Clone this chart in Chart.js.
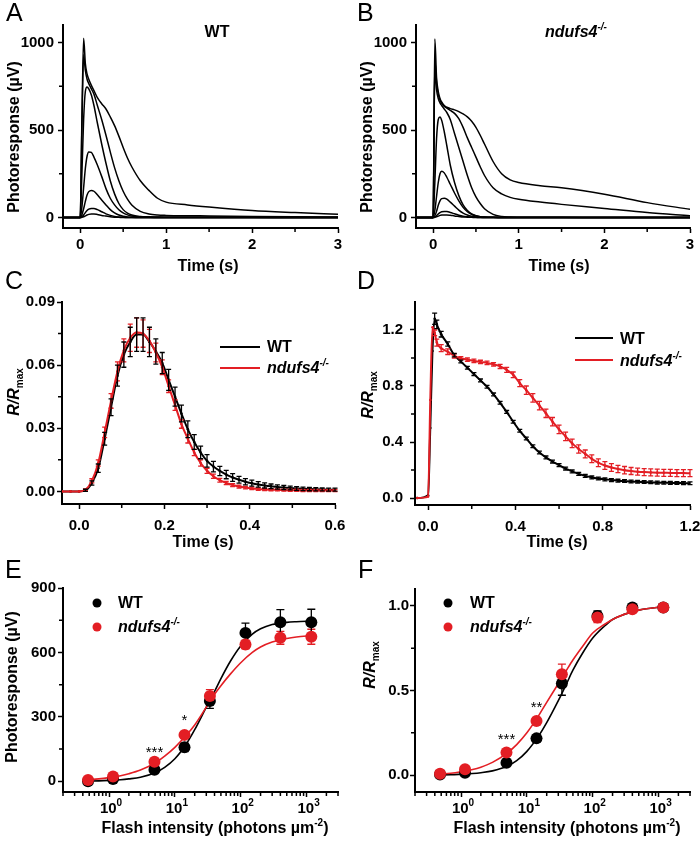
<!DOCTYPE html>
<html>
<head>
<meta charset="utf-8">
<script src="https://cdn.jsdelivr.net/npm/chart.js@4"></script>
<style>
html, body { margin: 0; padding: 0; background: #fff; }
#fig { position: relative; width: 700px; height: 842px; overflow: hidden; }
canvas { position: absolute; }
</style>
</head>
<body>
<div id="fig"></div>
<script>
// ---- A / B : photoresponse families (uV) ----
const tAB = [-0.2, 0, 0.02, 0.04, 0.06, 0.08, 0.1, 0.13, 0.16, 0.2, 0.25, 0.3, 0.35, 0.4, 0.45, 0.5, 0.55, 0.6, 0.7, 0.8, 0.9, 1.0, 1.25, 1.5, 2.0, 2.5, 3.0];
const wtA1 = [0, 0, 560, 1025, 880, 820, 790, 755, 725, 685, 650, 620, 575, 525, 465, 400, 340, 290, 210, 155, 110, 88, 72, 60, 40, 28, 18];
const wtA2 = [0, 0, 520, 930, 840, 790, 765, 735, 705, 640, 560, 470, 375, 285, 210, 150, 105, 72, 35, 20, 14, 12, 10, 9, 6, 4, 3];
const wtA3 = [0, 0, 250, 560, 720, 746, 735, 700, 640, 540, 420, 310, 210, 135, 80, 45, 25, 14, 6, 4, 3, 2, 2, 1, 1, 0, 0];
const wtA4 = [0, 0, 60, 170, 280, 350, 375, 372, 345, 300, 235, 165, 110, 72, 44, 26, 15, 8, 3, 1, 0, 0, 0, 0, 0, 0, 0];
const wtA5 = [0, 0, 15, 50, 92, 128, 148, 155, 150, 130, 100, 72, 45, 26, 14, 7, 3, 1, 0, 0, 0, 0, 0, 0, 0, 0, 0];
const wtA6 = [0, 0, 4, 14, 28, 40, 48, 52, 52, 45, 33, 21, 12, 6, 3, 1, 0, 0, 0, 0, 0, 0, 0, 0, 0, 0, 0];
const wtA7 = [0, 0, 1, 4, 9, 14, 18, 20, 20, 17, 12, 8, 4, 2, 1, 0, 0, 0, 0, 0, 0, 0, 0, 0, 0, 0, 0];

const koB1 = [0, 0, 1020, 800, 720, 680, 660, 640, 630, 622, 615, 605, 592, 575, 550, 515, 470, 420, 320, 250, 215, 200, 182, 170, 133, 85, 47];
const koB2 = [0, 0, 900, 770, 705, 672, 652, 635, 625, 612, 595, 565, 515, 455, 400, 345, 290, 240, 170, 135, 115, 104, 88, 75, 52, 28, 10];
const koB3 = [0, 0, 850, 730, 680, 655, 640, 620, 600, 560, 480, 400, 320, 240, 170, 118, 80, 50, 18, 6, 3, 2, 1, 1, 0, 0, 0];
const koB4 = [0, 0, 200, 450, 560, 575, 555, 490, 410, 300, 200, 125, 72, 40, 20, 10, 5, 3, 1, 0, 0, 0, 0, 0, 0, 0, 0];
const koB5 = [0, 0, 40, 120, 200, 250, 265, 255, 230, 190, 140, 95, 58, 33, 18, 10, 5, 3, 1, 0, 0, 0, 0, 0, 0, 0, 0];
const koB6 = [0, 0, 10, 35, 70, 95, 108, 110, 105, 88, 65, 42, 25, 14, 7, 3, 1, 0, 0, 0, 0, 0, 0, 0, 0, 0, 0];
const koB7 = [0, 0, 3, 10, 20, 28, 33, 35, 34, 29, 21, 13, 7, 4, 2, 1, 0, 0, 0, 0, 0, 0, 0, 0, 0, 0, 0];
const koB8 = [0, 0, 1, 4, 8, 12, 14, 15, 15, 13, 9, 6, 3, 2, 1, 0, 0, 0, 0, 0, 0, 0, 0, 0, 0, 0, 0];

// ---- C : dim flash R/Rmax ----
const tC = [-0.04, -0.02, 0, 0.015, 0.03, 0.045, 0.06, 0.075, 0.09, 0.105, 0.12, 0.135, 0.15, 0.165, 0.18, 0.195, 0.21, 0.225, 0.24, 0.255, 0.27, 0.285, 0.3, 0.315, 0.33, 0.345, 0.36, 0.375, 0.39, 0.405, 0.42, 0.435, 0.45, 0.465, 0.48, 0.495, 0.51, 0.525, 0.54, 0.555, 0.57, 0.585, 0.6];
const wtC = [0, 0, 0, 0.0005, 0.004, 0.011, 0.025, 0.040, 0.055, 0.065, 0.071, 0.0745, 0.0745, 0.071, 0.0665, 0.061, 0.053, 0.045, 0.037, 0.0295, 0.0235, 0.0185, 0.0145, 0.0118, 0.0097, 0.008, 0.0066, 0.0055, 0.0046, 0.0039, 0.0033, 0.0028, 0.0024, 0.0021, 0.0018, 0.0016, 0.0014, 0.0012, 0.0011, 0.001, 0.0009, 0.0008, 0.0008];
const wtCerr = [0, 0, 0, 0.0005, 0.001, 0.002, 0.003, 0.004, 0.005, 0.006, 0.007, 0.008, 0.008, 0.007, 0.006, 0.005, 0.005, 0.0045, 0.004, 0.004, 0.0035, 0.003, 0.003, 0.0025, 0.0022, 0.002, 0.0018, 0.0016, 0.0015, 0.0014, 0.0013, 0.0012, 0.0011, 0.001, 0.001, 0.0009, 0.0009, 0.0008, 0.0008, 0.0008, 0.0007, 0.0007, 0.0007];
const koC = [0, 0, 0, 0.0008, 0.005, 0.0135, 0.028, 0.043, 0.057, 0.067, 0.073, 0.0755, 0.075, 0.0715, 0.066, 0.059, 0.050, 0.041, 0.032, 0.025, 0.0185, 0.0135, 0.0098, 0.0072, 0.0053, 0.004, 0.003, 0.0023, 0.0018, 0.0014, 0.0011, 0.0009, 0.0008, 0.0007, 0.0006, 0.0005, 0.0005, 0.0004, 0.0004, 0.0004, 0.0004, 0.0004, 0.0004];
const koCerr = [0, 0, 0, 0.0004, 0.001, 0.0015, 0.0025, 0.0035, 0.0045, 0.0055, 0.0065, 0.007, 0.0065, 0.0055, 0.0045, 0.0035, 0.003, 0.0025, 0.002, 0.002, 0.0015, 0.0015, 0.0012, 0.001, 0.0009, 0.0008, 0.0007, 0.0007, 0.0006, 0.0006, 0.0006, 0.0005, 0.0005, 0.0005, 0.0005, 0.0005, 0.0005, 0.0005, 0.0005, 0.0005, 0.0005, 0.0005, 0.0005];

// ---- D : bright flash R/Rmax ----
const tD = [-0.05, 0, 0.01, 0.02, 0.03, 0.04, 0.06, 0.09, 0.12, 0.15, 0.18, 0.21, 0.24, 0.27, 0.3, 0.33, 0.36, 0.39, 0.42, 0.45, 0.48, 0.51, 0.54, 0.57, 0.6, 0.63, 0.66, 0.69, 0.72, 0.75, 0.78, 0.81, 0.84, 0.87, 0.9, 0.93, 0.96, 0.99, 1.02, 1.05, 1.08, 1.11, 1.14, 1.17, 1.2];
const wtD = [0, 0.02, 0.5, 1.05, 1.28, 1.24, 1.17, 1.10, 1.02, 0.975, 0.93, 0.885, 0.84, 0.795, 0.74, 0.68, 0.615, 0.545, 0.48, 0.425, 0.37, 0.325, 0.29, 0.26, 0.235, 0.21, 0.19, 0.172, 0.158, 0.147, 0.139, 0.133, 0.128, 0.124, 0.121, 0.118, 0.116, 0.114, 0.112, 0.11, 0.109, 0.108, 0.107, 0.106, 0.105];
const wtDerr = [0, 0, 0, 0, 0.04, 0.03, 0.02, 0.015, 0.012, 0.01, 0.01, 0.01, 0.01, 0.01, 0.01, 0.01, 0.01, 0.01, 0.01, 0.01, 0.01, 0.01, 0.01, 0.01, 0.01, 0.01, 0.01, 0.01, 0.01, 0.01, 0.01, 0.01, 0.01, 0.01, 0.01, 0.01, 0.01, 0.01, 0.01, 0.01, 0.01, 0.01, 0.01, 0.01, 0.01];
const koD = [0, 0.01, 0.7, 1.22, 1.18, 1.11, 1.07, 1.045, 1.015, 0.998, 0.988, 0.98, 0.972, 0.965, 0.955, 0.94, 0.915, 0.88, 0.82, 0.77, 0.715, 0.66, 0.605, 0.545, 0.49, 0.44, 0.39, 0.35, 0.315, 0.28, 0.252, 0.232, 0.218, 0.207, 0.199, 0.193, 0.188, 0.185, 0.183, 0.181, 0.18, 0.179, 0.178, 0.178, 0.177];
const koDerr = [0, 0, 0, 0, 0.02, 0.025, 0.025, 0.02, 0.015, 0.012, 0.012, 0.012, 0.012, 0.012, 0.012, 0.015, 0.018, 0.02, 0.025, 0.03, 0.03, 0.03, 0.03, 0.03, 0.03, 0.03, 0.03, 0.03, 0.028, 0.028, 0.028, 0.028, 0.028, 0.026, 0.026, 0.025, 0.025, 0.025, 0.025, 0.025, 0.025, 0.025, 0.025, 0.025, 0.025];

// ---- E / F : intensity-response ----
const flash = [0.48, 1.15, 4.9, 14, 34, 118, 400, 1180];
const wtE = [0, 10, 54, 158, 374, 691, 741, 741];
const wtEerr = [3, 5, 10, 20, 35, 45, 58, 60];
const koE = [6, 22, 91, 216, 397, 637, 668, 673];
const koEerr = [4, 6, 10, 15, 30, 20, 30, 35];
const wtF = [0.004, 0.014, 0.073, 0.217, 0.542, 0.94, 0.99, 0.99];
const wtFerr = [0.004, 0.005, 0.008, 0.02, 0.07, 0.03, 0.01, 0.01];
const koF = [0.008, 0.034, 0.134, 0.32, 0.596, 0.931, 0.98, 0.99];
const koFerr = [0.005, 0.006, 0.01, 0.02, 0.06, 0.03, 0.01, 0.01];
const fitX = [0.47, 0.7, 1, 1.5, 2, 3, 5, 7, 10, 15, 20, 30, 40, 50, 70, 100, 150, 200, 300, 500, 700, 1200];
const wtEfit = [1, 2, 4, 7, 11, 19, 40, 65, 105, 175, 240, 345, 418, 478, 560, 630, 685, 710, 730, 740, 743, 746];
const koEfit = [7, 11, 17, 26, 35, 52, 85, 117, 158, 215, 262, 345, 405, 445, 500, 552, 600, 625, 648, 665, 672, 678];
const wtFfit = [0.001, 0.002, 0.005, 0.009, 0.014, 0.025, 0.052, 0.085, 0.14, 0.23, 0.31, 0.44, 0.54, 0.62, 0.72, 0.81, 0.88, 0.92, 0.95, 0.975, 0.985, 0.995];
const koFfit = [0.006, 0.011, 0.02, 0.033, 0.047, 0.075, 0.13, 0.18, 0.25, 0.35, 0.43, 0.54, 0.62, 0.68, 0.76, 0.84, 0.89, 0.92, 0.95, 0.975, 0.985, 0.995];

// tick labels
const xTicksAB = [0, 1, 2, 3];
const yTicksAB = [0, 500, 1000];
const xTicksC = [0, 0.2, 0.4, 0.6];
const yTicksC = [0, 0.03, 0.06, 0.09];
const xTicksD = [0, 0.4, 0.8, 1.2];
const yTicksD = [0, 0.4, 0.8, 1.2];
const xTicksEF = [1, 10, 100, 1000];
const yTicksE = [0, 300, 600, 900];
const yTicksF = [0, 0.5, 1.0];
const logMinor = [0.2, 0.3, 0.4, 0.5, 0.6, 0.7, 0.8, 0.9, 2, 3, 4, 5, 6, 7, 8, 9, 20, 30, 40, 50, 60, 70, 80, 90, 200, 300, 400, 500, 600, 700, 800, 900, 2000, 3000];

const FONT = '"Liberation Sans", Arial, sans-serif';
const RED = '#e31e24';
const STYLES = {
  b: ['bold 16px', 0], bi: ['italic bold 16px', 0],
  sup: ['bold 10px', -7], supi: ['italic bold 10px', -7], sub: ['bold 10px', 4],
  letter: ['25px', 0], tick: ['bold 15px', 0], tsup: ['bold 10px', -7], ast: ['15px', 0]
};

function rich(ctx, x, y, parts, align, rot) {
  ctx.save();
  ctx.translate(x, y);
  if (rot) ctx.rotate(rot);
  ctx.textBaseline = 'alphabetic';
  ctx.textAlign = 'left';
  ctx.fillStyle = '#000';
  let w = 0;
  parts.forEach(([t, s]) => { ctx.font = STYLES[s][0] + ' ' + FONT; w += ctx.measureText(t).width; });
  let cx = align === 'center' ? -w / 2 : (align === 'right' ? -w : 0);
  parts.forEach(([t, s]) => {
    ctx.font = STYLES[s][0] + ' ' + FONT;
    ctx.fillText(t, cx, STYLES[s][1]);
    cx += ctx.measureText(t).width;
  });
  ctx.restore();
}

// axis decorations, legends, error bars
function deco(box, cfg) {
  const bx = box[0], by = box[1];
  function errorBars(chart) {
    const ctx = chart.ctx, xs = chart.scales.x, ys = chart.scales.y;
    chart.data.datasets.forEach(ds => {
      if (!ds.err) return;
      ctx.save();
      ctx.strokeStyle = ds.borderColor;
      ctx.lineWidth = 1.3;
      ds.data.forEach((p, j) => {
        const e = ds.err[j];
        if (!e) return;
        const px = xs.getPixelForValue(p.x);
        const y1 = ys.getPixelForValue(p.y + e), y2 = ys.getPixelForValue(p.y - e);
        const c = ds.cap;
        ctx.beginPath();
        ctx.moveTo(px, y1); ctx.lineTo(px, y2);
        ctx.moveTo(px - c, y1); ctx.lineTo(px + c, y1);
        ctx.moveTo(px - c, y2); ctx.lineTo(px + c, y2);
        ctx.stroke();
      });
      ctx.restore();
    });
  }
  return {
    id: 'deco',
    beforeDatasetsDraw(chart) { if (cfg.barsBelow) errorBars(chart); },
    afterDatasetsDraw(chart) { if (!cfg.barsBelow) errorBars(chart); },
    afterDraw(chart) {
      const ctx = chart.ctx, a = chart.chartArea;
      ctx.save();
      ctx.strokeStyle = '#000';
      ctx.lineWidth = 1.5;
      ctx.beginPath();
      (cfg.minorX || []).forEach(v => {
        const p = chart.scales.x.getPixelForValue(v);
        ctx.moveTo(p, a.bottom); ctx.lineTo(p, a.bottom + 4);
      });
      (cfg.minorY || []).forEach(v => {
        const p = chart.scales.y.getPixelForValue(v);
        ctx.moveTo(a.left, p); ctx.lineTo(a.left - 4, p);
      });
      ctx.stroke();
      (cfg.lines || []).forEach(l => {
        ctx.strokeStyle = l.c; ctx.lineWidth = 2.2;
        ctx.beginPath(); ctx.moveTo(l.x1 - bx, l.y - by); ctx.lineTo(l.x2 - bx, l.y - by); ctx.stroke();
      });
      (cfg.dots || []).forEach(d => {
        ctx.fillStyle = d.c;
        ctx.beginPath(); ctx.arc(d.x - bx, d.y - by, 4.5, 0, 2 * Math.PI); ctx.fill();
      });
      ctx.restore();
      (cfg.logLabels || []).forEach(v => {
        const p = chart.scales.x.getPixelForValue(v);
        rich(ctx, p + 2, cfg.logBase - by, [['10', 'tick'], [String(Math.round(Math.log10(v))), 'tsup']], 'center');
      });
      (cfg.marks || []).forEach(m => rich(ctx, chart.scales.x.getPixelForValue(m.x), chart.scales.y.getPixelForValue(m.y), [[m.t, 'ast']], 'center'));
      (cfg.texts || []).forEach(t => rich(ctx, t.x - bx, t.y - by, t.p, t.a || 'left', t.r ? -Math.PI / 2 : 0));
    }
  };
}

function panel(box, plot, datasets, sx, sy, cfg) {
  const [bx, by, bw, bh] = box, [l, t, r, b] = plot;
  const cv = document.createElement('canvas');
  cv.width = bw; cv.height = bh;
  cv.style.left = bx + 'px'; cv.style.top = by + 'px';
  document.getElementById('fig').appendChild(cv);
  const axis = (o, isX) => ({
    type: o.type || 'linear', min: o.min, max: o.max, bounds: 'data',
    afterBuildTicks: s => { s.ticks = o.ticks.map(v => ({ value: v })); },
    afterFit: s => {
      if (isX) { s.height = by + bh - b; s.paddingLeft = 0; s.paddingRight = 0; }
      else { s.width = l - bx; s.paddingTop = 0; s.paddingBottom = 0; }
    },
    grid: { display: true, drawOnChartArea: false, drawTicks: true, tickLength: 5, tickWidth: 1.5, tickColor: '#000' },
    border: { display: true, width: 2, color: '#000' },
    ticks: { autoSkip: false, maxRotation: 0, minRotation: 0, padding: o.pad, color: '#000',
             font: { family: FONT, size: 15, weight: 'bold' }, callback: o.fmt }
  });
  new Chart(cv, {
    type: 'line',
    data: { datasets },
    options: {
      responsive: false, animation: false, events: [], devicePixelRatio: 1,
      layout: { padding: { left: 0, top: t - by, right: bx + bw - r, bottom: 0 } },
      plugins: { legend: { display: false }, tooltip: { enabled: false } },
      scales: { x: axis(sx, true), y: axis(sy, false) }
    },
    plugins: [deco(box, cfg)]
  });
}

const pts = (xs, ys) => xs.map((x, i) => ({ x, y: ys[i] }));
const trace = ys => ({ data: pts(tAB, ys), borderColor: '#000', borderWidth: 1.5, pointRadius: 0, cubicInterpolationMode: 'monotone' });
const meanLine = (xs, ys, err, col) => ({ data: pts(xs, ys), err, cap: 2.5, borderColor: col, backgroundColor: col, borderWidth: 2,
  pointRadius: 1.3, pointBorderWidth: 0, pointBackgroundColor: col, cubicInterpolationMode: 'monotone' });
const dots = (ys, err, col) => ({ data: pts(flash, ys), err, cap: 4, borderColor: col, backgroundColor: col, showLine: false,
  pointRadius: 6, pointBorderWidth: 0, pointBackgroundColor: col });
const fit = (ys, col) => ({ data: pts(fitX, ys), borderColor: col, borderWidth: 1.6, pointRadius: 0, cubicInterpolationMode: 'monotone' });

const int0 = v => v.toFixed(0), dec1 = v => v.toFixed(1), dec2 = v => v.toFixed(2), blank = () => '';
const KO = [['ndufs4', 'bi'], ['-/-', 'supi']];
const RR = [['R/R', 'bi'], ['max', 'sub']];
const PR = [['Photoresponse (\u00b5V)', 'b']];
const FL = [['Flash intensity (photons \u00b5m', 'b'], ['-2', 'sup'], [')', 'b']];

// A
panel([0, 0, 350, 275], [63, 25, 338, 228],
  [wtA1, wtA2, wtA3, wtA4, wtA5, wtA6, wtA7].map(trace),
  { min: -0.2, max: 3, ticks: xTicksAB, pad: 3, fmt: int0 },
  { min: -60, max: 1100, ticks: yTicksAB, pad: 4, fmt: int0 },
  { minorX: [0.5, 1.5, 2.5], minorY: [250, 750], texts: [
    { x: 6, y: 21, p: [['A', 'letter']] },
    { x: 217, y: 37, p: [['WT', 'b']], a: 'center' },
    { x: 208, y: 271, p: [['Time (s)', 'b']], a: 'center' },
    { x: 19, y: 137, p: PR, a: 'center', r: 1 }] });

// B
panel([350, 0, 350, 275], [416, 25, 690, 228],
  [koB1, koB2, koB3, koB4, koB5, koB6, koB7, koB8].map(trace),
  { min: -0.2, max: 3, ticks: xTicksAB, pad: 3, fmt: int0 },
  { min: -60, max: 1100, ticks: yTicksAB, pad: 4, fmt: int0 },
  { minorX: [0.5, 1.5, 2.5], minorY: [250, 750], texts: [
    { x: 357, y: 21, p: [['B', 'letter']] },
    { x: 545, y: 37, p: KO },
    { x: 559, y: 271, p: [['Time (s)', 'b']], a: 'center' },
    { x: 372, y: 137, p: PR, a: 'center', r: 1 }] });

// C
panel([0, 265, 350, 295], [62, 302, 335, 504],
  [meanLine(tC, koC, koCerr, RED), meanLine(tC, wtC, wtCerr, '#000')],
  { min: -0.04, max: 0.6, ticks: xTicksC, pad: 8, fmt: dec1 },
  { min: -0.006, max: 0.09, ticks: yTicksC, pad: 2, fmt: dec2 },
  { minorX: [0.1, 0.3, 0.5], minorY: [0.015, 0.045, 0.075],
    lines: [{ x1: 220, x2: 260, y: 347, c: '#000' }, { x1: 220, x2: 260, y: 368, c: RED }],
    texts: [
    { x: 5, y: 289, p: [['C', 'letter']] },
    { x: 267, y: 352, p: [['WT', 'b']] },
    { x: 267, y: 373, p: KO },
    { x: 203, y: 547, p: [['Time (s)', 'b']], a: 'center' },
    { x: 19, y: 392, p: RR, a: 'center', r: 1 }] });

// D
panel([350, 265, 350, 295], [415, 302, 690, 505],
  [meanLine(tD, koD, koDerr, RED), meanLine(tD, wtD, wtDerr, '#000')],
  { min: -0.06, max: 1.2, ticks: xTicksD, pad: 8, fmt: dec1 },
  { min: -0.05, max: 1.4, ticks: yTicksD, pad: 7, fmt: dec1 },
  { minorX: [0.2, 0.6, 1.0], minorY: [0.2, 0.6, 1.0],
    lines: [{ x1: 575, x2: 613, y: 338, c: '#000' }, { x1: 575, x2: 613, y: 360, c: RED }],
    texts: [
    { x: 357, y: 289, p: [['D', 'letter']] },
    { x: 620, y: 344, p: [['WT', 'b']] },
    { x: 620, y: 366, p: KO },
    { x: 557, y: 547, p: [['Time (s)', 'b']], a: 'center' },
    { x: 373, y: 395, p: RR, a: 'center', r: 1 }] });

// E
panel([0, 555, 350, 287], [63, 588, 338, 792],
  [dots(koE, koEerr, RED), dots(wtE, wtEerr, '#000'), fit(koEfit, RED), fit(wtEfit, '#000')],
  { type: 'logarithmic', min: 0.2, max: 3000, ticks: xTicksEF, pad: 3, fmt: blank },
  { min: -50, max: 900, ticks: yTicksE, pad: 2, fmt: int0 },
  { barsBelow: true, minorX: logMinor, minorY: [150, 450, 750], logLabels: xTicksEF, logBase: 813,
    dots: [{ x: 97, y: 603, c: '#000' }, { x: 97, y: 627, c: RED }],
    marks: [{ x: flash[2], y: 111, t: '***' }, { x: flash[3], y: 260, t: '*' }],
    texts: [
    { x: 5, y: 578, p: [['E', 'letter']] },
    { x: 118, y: 608, p: [['WT', 'b']] },
    { x: 118, y: 632, p: KO },
    { x: 215, y: 833, p: FL, a: 'center' },
    { x: 17, y: 687, p: PR, a: 'center', r: 1 }] });

// F
panel([350, 555, 350, 287], [415, 589, 690, 792],
  [dots(koF, koFerr, RED), dots(wtF, wtFerr, '#000'), fit(koFfit, RED), fit(wtFfit, '#000')],
  { type: 'logarithmic', min: 0.2, max: 3000, ticks: xTicksEF, pad: 3, fmt: blank },
  { min: -0.1, max: 1.1, ticks: yTicksF, pad: 1, fmt: dec1 },
  { barsBelow: true, minorX: logMinor, minorY: [0.25, 0.75], logLabels: xTicksEF, logBase: 813,
    dots: [{ x: 448, y: 603, c: '#000' }, { x: 448, y: 627, c: RED }],
    marks: [{ x: flash[2], y: 0.183, t: '***' }, { x: flash[3], y: 0.373, t: '**' }],
    texts: [
    { x: 358, y: 578, p: [['F', 'letter']] },
    { x: 470, y: 608, p: [['WT', 'b']] },
    { x: 470, y: 632, p: KO },
    { x: 567, y: 833, p: FL, a: 'center' },
    { x: 375, y: 665, p: RR, a: 'center', r: 1 }] });
</script>
</body>
</html>
